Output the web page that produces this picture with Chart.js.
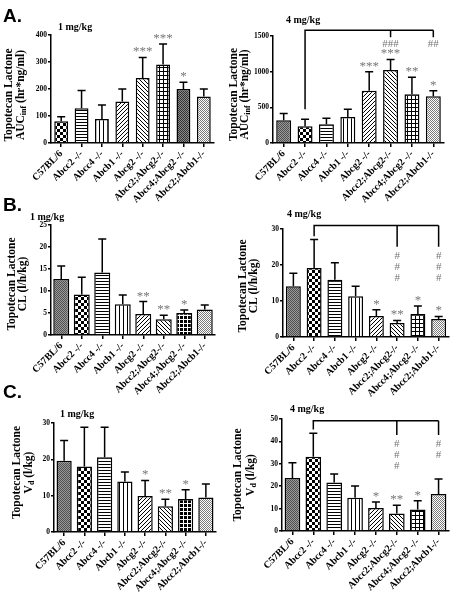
<!DOCTYPE html>
<html>
<head>
<meta charset="utf-8">
<script src="https://cdn.jsdelivr.net/npm/chart.js@4.4.0/dist/chart.umd.min.js"></script>
<style>
  body { margin: 0; background: #fff; width: 454px; height: 600px; position: relative; overflow: hidden; }
  canvas { position: absolute; left: 0; top: 0; }
  .tag { position: absolute; left: 3px; font: bold 19px 'Liberation Sans', Arial, sans-serif; line-height: 19px; z-index: 2; }
</style>
</head>
<body>
<div class="tag" style="top:6px">A.</div>
<div class="tag" style="top:195px">B.</div>
<div class="tag" style="top:382px">C.</div>
<canvas id="aucLowChart" width="454" height="600"></canvas>
<canvas id="aucHighChart" width="454" height="600"></canvas>
<canvas id="clLowChart" width="454" height="600"></canvas>
<canvas id="clHighChart" width="454" height="600"></canvas>
<canvas id="vdLowChart" width="454" height="600"></canvas>
<canvas id="vdHighChart" width="454" height="600"></canvas>
<script>
const genotypes = ['C57BL/6', 'Abcc2 -/-', 'Abcc4 -/-', 'Abcb1 -/-', 'Abcg2 -/-', 'Abcc2;Abcg2-/-', 'Abcc4;Abcg2 -/-', 'Abcc2;Abcb1-/-'];

// mean and upper SD
const aucLow = [81, 129, 89, 154, 241, 291, 200, 172];
const aucLowSd = [16, 65, 52, 46, 76, 76, 25, 28];
const aucHigh = [319, 234, 262, 366, 731, 1022, 684, 656];
const aucHighSd = [93, 99, 85, 107, 267, 150, 239, 75];
const clLow = [12.7, 9.2, 14.2, 7.0, 4.8, 3.6, 5.0, 5.8];
const clLowSd = [3.0, 3.9, 7.6, 2.1, 2.8, 0.9, 0.7, 1.0];
const clHigh = [14.1, 19.2, 15.9, 11.3, 5.8, 3.9, 6.4, 5.0];
const clHighSd = [3.6, 7.9, 4.7, 2.8, 1.8, 0.7, 2.2, 0.7];
const vdLow = [19.6, 18.0, 20.6, 13.9, 9.9, 7.1, 9.1, 9.5];
const vdLowSd = [5.6, 10.8, 8.2, 2.6, 4.3, 1.9, 2.5, 3.7];
const vdHigh = [23.7, 33.2, 21.7, 14.8, 10.3, 7.8, 9.6, 16.5];
const vdHighSd = [6.8, 10.4, 3.7, 5.3, 2.7, 3.7, 3.9, 6.7];

// * vs C57BL/6, # vs Abcc2 -/-
const aucLowStars = ['', '', '', '', '***', '***', '*', ''];
const aucHighStars = ['', '', '', '', '***', '***', '**', '*'];
const aucHighHash = ['', '', '', '', '', '###', '', '##'];
const clLowStars = ['', '', '', '', '**', '**', '*', ''];
const clHighStars = ['', '', '', '', '*', '**', '*', '*'];
const clHighHash = ['', '', '', '', '', '###', '', '###'];
const vdLowStars = ['', '', '', '', '*', '**', '*', ''];
const vdHighStars = ['', '', '', '', '*', '**', '*', ''];
const vdHighHash = ['', '', '', '', '', '###', '', '##'];

// bracket levels: top line, left leg end, right legs end
const aucHighBracket = [1580, 472, 1482];
const clHighBracket = [31.0, 28.0, 25.1];
const vdHighBracket = [49.2, 45.3, 42.9];

const aucLowTicks = [0, 100, 200, 300, 400];
const aucHighTicks = [0, 500, 1000, 1500];
const clLowTicks = [0, 5, 10, 15, 20, 25];
const clHighTicks = [0, 10, 20, 30];
const vdLowTicks = [0, 10, 20, 30];
const vdHighTicks = [0, 10, 20, 30, 40, 50];

const PAGE_W = 454, PAGE_H = 600;
const Y_W = 30, X_H = 62;
const SERIF = "'Liberation Serif', 'Times New Roman', serif";

function pattern(kind) {
  const c = document.createElement('canvas');
  const g = c.getContext('2d');
  const sizes = { hatch: 2, darkcheck: 2, dots: 2, checker: 6, hline: 3 };
  const n = sizes[kind] || 4;
  c.width = n; c.height = n;
  const px = (x, y, col) => { g.fillStyle = col; g.fillRect(x, y, 1, 1); };
  g.fillStyle = kind === 'blackgrid' ? '#000' : '#fff';
  g.fillRect(0, 0, n, n);
  g.fillStyle = '#000';
  switch (kind) {
    case 'hatch': px(0, 0, '#505050'); px(1, 1, '#505050'); px(1, 0, '#9a9a9a'); px(0, 1, '#9a9a9a'); break;
    case 'darkcheck': px(0, 0, '#333'); px(1, 1, '#333'); px(1, 0, '#8a8a8a'); px(0, 1, '#8a8a8a'); break;
    case 'dots': px(0, 0, '#7a7a7a'); px(1, 1, '#7a7a7a'); break;
    case 'checker': g.fillRect(0, 0, 3, 3); g.fillRect(3, 3, 3, 3); break;
    case 'hline': g.fillRect(0, 2, 3, 1); break;
    case 'vline': g.fillRect(3, 0, 1, 4); break;
    case 'fwd': px(3, 0, '#000'); px(2, 1, '#000'); px(1, 2, '#000'); px(0, 3, '#000'); break;
    case 'back': px(0, 0, '#000'); px(1, 1, '#000'); px(2, 2, '#000'); px(3, 3, '#000'); break;
    case 'grid': g.fillRect(0, 3, 4, 1); g.fillRect(3, 0, 1, 4); break;
    case 'blackgrid': g.fillStyle = '#fff'; g.fillRect(0, 3, 4, 1); g.fillRect(3, 0, 1, 4); break;
  }
  return g.createPattern(c, 'repeat');
}

const decor = {
  id: 'decor',
  afterDatasetsDraw(chart, args, o) {
    const { ctx, scales: { y } } = chart;
    const bars = chart.getDatasetMeta(0).data;
    ctx.save();
    ctx.strokeStyle = '#000';
    ctx.lineWidth = 1.5;
    bars.forEach((b, i) => {
      const top = y.getPixelForValue(o.means[i] + o.sd[i]);
      ctx.beginPath();
      ctx.moveTo(b.x, b.y);
      ctx.lineTo(b.x, top);
      ctx.moveTo(b.x - 4, top);
      ctx.lineTo(b.x + 4, top);
      ctx.stroke();
      if (o.stars[i]) {
        ctx.fillStyle = '#777';
        ctx.font = '13px ' + SERIF;
        ctx.textAlign = 'center';
        ctx.textBaseline = 'alphabetic';
        ctx.fillText(o.stars[i], b.x, top - 2);
      }
    });
    if (o.bracket) {
      const [lvl, leftEnd, markEnd] = o.bracket;
      const yTop = y.getPixelForValue(lvl);
      const yMark = y.getPixelForValue(markEnd);
      ctx.beginPath();
      ctx.moveTo(bars[1].x, y.getPixelForValue(leftEnd));
      ctx.lineTo(bars[1].x, yTop);
      ctx.lineTo(bars[7].x, yTop);
      o.hash.forEach((h, i) => {
        if (!h) return;
        ctx.moveTo(bars[i].x, yTop);
        ctx.lineTo(bars[i].x, yMark);
      });
      ctx.stroke();
      ctx.fillStyle = '#777';
      ctx.font = '11px ' + SERIF;
      ctx.textAlign = 'center';
      ctx.textBaseline = 'middle';
      o.hash.forEach((h, i) => {
        if (!h) return;
        if (o.hashStack) {
          for (let k = 0; k < h.length; k++) ctx.fillText('#', bars[i].x, yMark + 9 + k * 11);
        } else {
          ctx.fillText(h, bars[i].x, yMark + 7);
        }
      });
    }
    ctx.restore();
  },
  afterDraw(chart, args, o) {
    const { ctx, chartArea: a } = chart;
    ctx.save();
    ctx.fillStyle = '#000';
    ctx.font = 'bold 10px ' + SERIF;
    ctx.textAlign = 'left';
    ctx.textBaseline = 'alphabetic';
    ctx.fillText(o.title, a.left + o.titleAt[0], a.top + o.titleAt[1]);

    // two-line rotated y title with subscript
    const cy = (a.top + a.bottom) / 2 + o.yTitleAt[2];
    ctx.textBaseline = 'middle';
    ctx.translate(a.left + o.yTitleAt[0], cy);
    ctx.rotate(-Math.PI / 2);
    ctx.font = 'bold 11.5px ' + SERIF;
    ctx.textAlign = 'center';
    ctx.fillText('Topotecan Lactone', 0, 0);
    ctx.setTransform(1, 0, 0, 1, 0, 0);
    ctx.translate(a.left + o.yTitleAt[1], cy);
    ctx.rotate(-Math.PI / 2);
    const [main, sub, rest] = o.yTitle;
    ctx.font = 'bold 11.5px ' + SERIF;
    const wMain = ctx.measureText(main).width;
    const wRest = ctx.measureText(rest).width;
    ctx.font = 'bold 8px ' + SERIF;
    const wSub = ctx.measureText(sub).width;
    const x0 = -(wMain + wSub + wRest) / 2;
    ctx.textAlign = 'left';
    ctx.font = 'bold 11.5px ' + SERIF;
    ctx.fillText(main, x0, 0);
    ctx.font = 'bold 8px ' + SERIF;
    ctx.fillText(sub, x0 + wMain, 3);
    ctx.font = 'bold 11.5px ' + SERIF;
    ctx.fillText(rest, x0 + wMain + wSub, 0);
    ctx.restore();
  }
};

const panels = [
  { id: 'aucLowChart', means: aucLow, sd: aucLowSd, stars: aucLowStars, ticks: aucLowTicks,
    area: [51, 35, 214, 143], bar: 0.68, title: '1 mg/kg', titleAt: [7, -5],
    yTitle: ['AUC', 'inf', ' (hr*ng/ml)'], yTitleAt: [-42, -30, 6],
    fills: ['checker', 'hline', 'vline', 'fwd', 'back', 'grid', 'darkcheck', 'dots'] },
  { id: 'aucHighChart', means: aucHigh, sd: aucHighSd, stars: aucHighStars, ticks: aucHighTicks,
    hash: aucHighHash, bracket: aucHighBracket, hashStack: false,
    area: [273, 36, 444, 143], bar: 0.7, title: '4 mg/kg', titleAt: [13, -13],
    yTitle: ['AUC', 'inf', ' (hr*ng/ml)'], yTitleAt: [-39, -28, 5],
    fills: ['hatch', 'checker', 'hline', 'vline', 'fwd', 'back', 'grid', 'dots'] },
  { id: 'clLowChart', means: clLow, sd: clLowSd, stars: clLowStars, ticks: clLowTicks,
    area: [51, 225, 215, 335], bar: 0.78, title: '1 mg/kg', titleAt: [-21, -5],
    yTitle: ['CL (l/h/kg)', '', ''], yTitleAt: [-39, -28, 4],
    fills: ['hatch', 'checker', 'hline', 'vline', 'fwd', 'back', 'blackgrid', 'dots'] },
  { id: 'clHighChart', means: clHigh, sd: clHighSd, stars: clHighStars, ticks: clHighTicks,
    hash: clHighHash, bracket: clHighBracket, hashStack: true,
    area: [283, 229, 449, 337], bar: 0.72, title: '4 mg/kg', titleAt: [4, -12],
    yTitle: ['CL (l/h/kg)', '', ''], yTitleAt: [-40, -29, 3],
    fills: ['hatch', 'checker', 'hline', 'vline', 'fwd', 'back', 'grid', 'dots'] },
  { id: 'vdLowChart', means: vdLow, sd: vdLowSd, stars: vdLowStars, ticks: vdLowTicks,
    area: [54, 423, 216, 532], bar: 0.75, title: '1 mg/kg', titleAt: [6, -6],
    yTitle: ['V', 'd', ' (l/kg)'], yTitleAt: [-37, -25, -5],
    fills: ['hatch', 'checker', 'hline', 'vline', 'fwd', 'back', 'blackgrid', 'dots'] },
  { id: 'vdHighChart', means: vdHigh, sd: vdHighSd, stars: vdHighStars, ticks: vdHighTicks,
    hash: vdHighHash, bracket: vdHighBracket, hashStack: true,
    area: [282, 419, 449, 531], bar: 0.75, title: '4 mg/kg', titleAt: [8, -7],
    yTitle: ['V', 'd', ' (l/kg)'], yTitleAt: [-44, -31, 0],
    fills: ['hatch', 'checker', 'hline', 'vline', 'fwd', 'back', 'grid', 'dots'] }
];

panels.forEach((p) => {
  const [l, t, r, b] = p.area;
  new Chart(document.getElementById(p.id), {
    type: 'bar',
    data: {
      labels: genotypes,
      datasets: [{
        data: p.means,
        backgroundColor: p.fills.map(pattern),
        borderColor: '#000',
        borderWidth: 1.5,
        borderSkipped: 'bottom',
        barPercentage: p.bar,
        categoryPercentage: 1
      }]
    },
    options: {
      responsive: false,
      animation: false,
      events: [],
      layout: { padding: { left: l - Y_W, top: t, right: PAGE_W - r, bottom: PAGE_H - b - X_H } },
      plugins: {
        legend: { display: false },
        tooltip: { enabled: false },
        decor: p
      },
      scales: {
        x: {
          offset: true,
          grid: { display: true, drawOnChartArea: false, offset: false, tickLength: 4, color: '#000', lineWidth: 1.5 },
          border: { display: true, color: '#000', width: 1.5 },
          ticks: {
            autoSkip: false, minRotation: 45, maxRotation: 45, padding: 1, color: '#000',
            font: { family: SERIF, size: 10, weight: 'bold' }
          },
          afterFit: (s) => { s.height = X_H; }
        },
        y: {
          min: 0,
          max: p.ticks[p.ticks.length - 1],
          grid: { display: true, drawOnChartArea: false, tickLength: 3, color: '#000', lineWidth: 1.5 },
          border: { display: true, color: '#000', width: 1.5 },
          ticks: {
            color: '#000', padding: 1, font: { family: SERIF, size: 7.5, weight: 'bold' },
            callback: (v) => String(v)
          },
          afterBuildTicks: (s) => { s.ticks = p.ticks.map((v) => ({ value: v })); },
          afterFit: (s) => { s.width = Y_W; }
        }
      }
    },
    plugins: [decor]
  });
});
</script>
</body>
</html>
